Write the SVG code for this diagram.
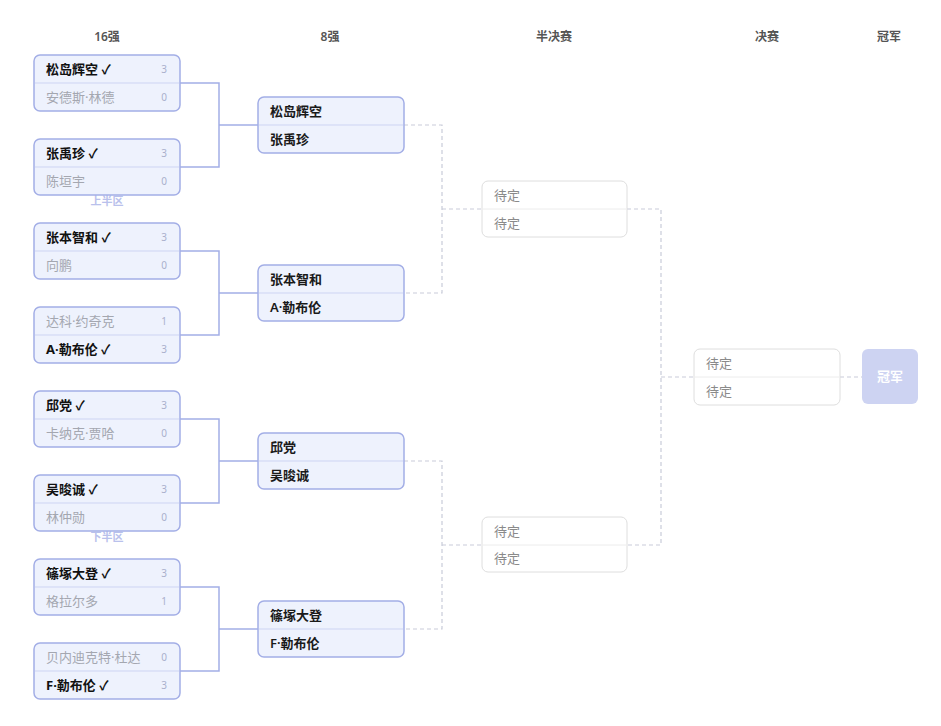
<svg xmlns="http://www.w3.org/2000/svg" width="941" height="726" viewBox="0 0 941 726">
<style>
text{font-family:"Noto Sans","Noto Sans CJK SC",sans-serif}
.hd{font-size:12px;fill:#555;text-anchor:middle;font-weight:600}
.half{font-size:11px;fill:#b9c1ec;text-anchor:middle;font-weight:600}
.box{fill:#eef2fd;stroke:#a3aee6;stroke-width:1.5}
.div{stroke:#cdd4f3;stroke-width:1}
.win{font-size:13px;fill:#111;font-weight:700}
.lose{font-size:13px;fill:#a4a7b0}
.sc{font-size:10px;fill:#aab0cc;text-anchor:middle}
.qf{font-size:13px;fill:#1a1a1a;font-weight:600}
.tbd{fill:#fff;stroke:#dedede;stroke-width:1}
.tdiv{stroke:#ececec;stroke-width:1}
.tt{font-size:13px;fill:#8a8a8a}
.solid{fill:none;stroke:#a3aee6;stroke-width:1.5}
.dash{fill:none;stroke:#c9ccd9;stroke-width:1.2;stroke-dasharray:4 3}
</style>
<g id="headers">
<text class="hd" x="107" y="41">16强</text>
<text class="hd" x="330" y="41">8强</text>
<text class="hd" x="554" y="41">半决赛</text>
<text class="hd" x="767" y="41">决赛</text>
<text class="hd" x="889" y="41">冠军</text>
<text class="half" x="107" y="205">上半区</text>
<text class="half" x="107" y="541">下半区</text>
</g>
<g id="connectors">
<path class="solid" d="M180 83H219V167H180M219 125H258"/>
<path class="solid" d="M180 251H219V335H180M219 293H258"/>
<path class="solid" d="M180 419H219V503H180M219 461H258"/>
<path class="solid" d="M180 587H219V671H180M219 629H258"/>
<path class="dash" d="M404 125H442V293H404M442 209H482"/>
<path class="dash" d="M404 461H442V629H404M442 545H482"/>
<path class="dash" d="M627 209H661V545H627M661 377H694"/>
<path class="dash" d="M840 377H862"/>
</g>
<g id="r16-1"><rect class="box" x="34" y="55" width="146" height="56" rx="6"/><line class="div" x1="35" y1="83" x2="179" y2="83"/>
<text class="win" x="46" y="74">松岛辉空 ✓</text><text class="sc" x="164" y="73">3</text>
<text class="lose" x="46" y="102">安德斯·林德</text><text class="sc" x="164" y="101">0</text></g>
<g id="r16-2"><rect class="box" x="34" y="139" width="146" height="56" rx="6"/><line class="div" x1="35" y1="167" x2="179" y2="167"/>
<text class="win" x="46" y="158">张禹珍 ✓</text><text class="sc" x="164" y="157">3</text>
<text class="lose" x="46" y="186">陈垣宇</text><text class="sc" x="164" y="185">0</text></g>
<g id="r16-3"><rect class="box" x="34" y="223" width="146" height="56" rx="6"/><line class="div" x1="35" y1="251" x2="179" y2="251"/>
<text class="win" x="46" y="242">张本智和 ✓</text><text class="sc" x="164" y="241">3</text>
<text class="lose" x="46" y="270">向鹏</text><text class="sc" x="164" y="269">0</text></g>
<g id="r16-4"><rect class="box" x="34" y="307" width="146" height="56" rx="6"/><line class="div" x1="35" y1="335" x2="179" y2="335"/>
<text class="lose" x="46" y="326">达科·约奇克</text><text class="sc" x="164" y="325">1</text>
<text class="win" x="46" y="354">A·勒布伦 ✓</text><text class="sc" x="164" y="353">3</text></g>
<g id="r16-5"><rect class="box" x="34" y="391" width="146" height="56" rx="6"/><line class="div" x1="35" y1="419" x2="179" y2="419"/>
<text class="win" x="46" y="410">邱党 ✓</text><text class="sc" x="164" y="409">3</text>
<text class="lose" x="46" y="438">卡纳克·贾哈</text><text class="sc" x="164" y="437">0</text></g>
<g id="r16-6"><rect class="box" x="34" y="475" width="146" height="56" rx="6"/><line class="div" x1="35" y1="503" x2="179" y2="503"/>
<text class="win" x="46" y="494">吴晙诚 ✓</text><text class="sc" x="164" y="493">3</text>
<text class="lose" x="46" y="522">林仲勋</text><text class="sc" x="164" y="521">0</text></g>
<g id="r16-7"><rect class="box" x="34" y="559" width="146" height="56" rx="6"/><line class="div" x1="35" y1="587" x2="179" y2="587"/>
<text class="win" x="46" y="578">篠塚大登 ✓</text><text class="sc" x="164" y="577">3</text>
<text class="lose" x="46" y="606">格拉尔多</text><text class="sc" x="164" y="605">1</text></g>
<g id="r16-8"><rect class="box" x="34" y="643" width="146" height="56" rx="6"/><line class="div" x1="35" y1="671" x2="179" y2="671"/>
<text class="lose" x="46" y="662">贝内迪克特·杜达</text><text class="sc" x="164" y="661">0</text>
<text class="win" x="46" y="690">F·勒布伦 ✓</text><text class="sc" x="164" y="689">3</text></g>
<g id="qf-1"><rect class="box" x="258" y="97" width="146" height="56" rx="6"/><line class="div" x1="259" y1="125" x2="403" y2="125"/>
<text class="qf" x="270" y="116">松岛辉空</text><text class="qf" x="270" y="144">张禹珍</text></g>
<g id="qf-2"><rect class="box" x="258" y="265" width="146" height="56" rx="6"/><line class="div" x1="259" y1="293" x2="403" y2="293"/>
<text class="qf" x="270" y="284">张本智和</text><text class="qf" x="270" y="312">A·勒布伦</text></g>
<g id="qf-3"><rect class="box" x="258" y="433" width="146" height="56" rx="6"/><line class="div" x1="259" y1="461" x2="403" y2="461"/>
<text class="qf" x="270" y="452">邱党</text><text class="qf" x="270" y="480">吴晙诚</text></g>
<g id="qf-4"><rect class="box" x="258" y="601" width="146" height="56" rx="6"/><line class="div" x1="259" y1="629" x2="403" y2="629"/>
<text class="qf" x="270" y="620">篠塚大登</text><text class="qf" x="270" y="648">F·勒布伦</text></g>
<g id="sf-1"><rect class="tbd" x="482" y="181" width="145" height="56" rx="6"/><line class="tdiv" x1="483" y1="209" x2="626" y2="209"/>
<text class="tt" x="494" y="200">待定</text><text class="tt" x="494" y="228">待定</text></g>
<g id="sf-2"><rect class="tbd" x="482" y="517" width="145" height="55" rx="6"/><line class="tdiv" x1="483" y1="545" x2="626" y2="545"/>
<text class="tt" x="494" y="536">待定</text><text class="tt" x="494" y="563">待定</text></g>
<g id="final"><rect class="tbd" x="694" y="349" width="146" height="56" rx="6"/><line class="tdiv" x1="695" y1="377" x2="839" y2="377"/>
<text class="tt" x="706" y="368">待定</text><text class="tt" x="706" y="396">待定</text></g>
<g id="champion"><rect x="862" y="349" width="56" height="55" rx="6" fill="#cdd3f2"/>
<text x="890" y="381" font-size="13" font-weight="700" fill="#fff" text-anchor="middle">冠军</text></g>
</svg>
